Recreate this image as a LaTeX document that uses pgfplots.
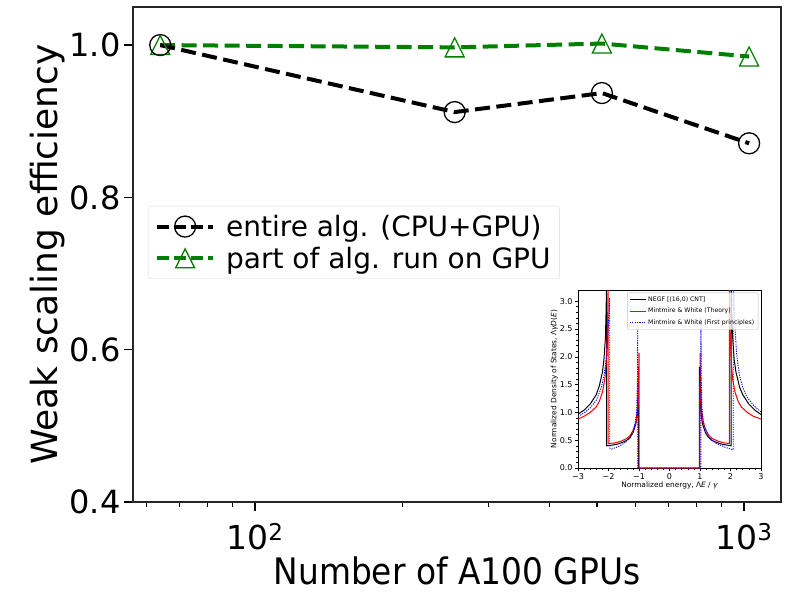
\documentclass[border=0pt]{standalone}
\usepackage{fontspec}
\setmainfont{DejaVu Sans}
\newfontfamily\xlfont{DejaVu Sans}[FakeStretch=0.9]
\usepackage{pgfplots}
\pgfplotsset{compat=1.18}
\definecolor{mgreen}{HTML}{008000}
\definecolor{mblue}{HTML}{0000FF}
\definecolor{mred}{HTML}{FF0000}
\pgfdeclareplotmark{mtri}{%
  \pgfpathmoveto{\pgfqpoint{0pt}{\pgfplotmarksize}}%
  \pgfpathlineto{\pgfqpoint{-\pgfplotmarksize}{-\pgfplotmarksize}}%
  \pgfpathlineto{\pgfqpoint{\pgfplotmarksize}{-\pgfplotmarksize}}%
  \pgfpathclose\pgfusepathqstroke}
\begin{document}
\begin{tikzpicture}[x=1pt,y=1pt]
\path[use as bounding box] (0,0) rectangle (789,595);
\begin{axis}[
  at={(133pt,93pt)}, anchor=south west,
  width=648pt, height=495pt, scale only axis,
  xmode=log, xmin=56.3, xmax=1190, ymin=0.4, ymax=1.05,
  axis line style={line width=1.3pt, black!85},
  xtick={100,1000}, xticklabels={{10\textsuperscript{2}},{10\textsuperscript{3}}},
  minor xtick={60,70,80,90,200,300,400,500,600,700,800,900},
  ytick={0.4,0.6,0.8,1.0}, yticklabels={0.4,0.6,0.8,1.0},
  tick align=outside, xtick pos=bottom, ytick pos=left,
  major tick length=9pt, minor tick length=5pt,
  every tick/.style={line width=1.3pt, black},
  /pgf/number format/assume math mode=true,
  tick label style={font=\fontsize{32}{37}\selectfont},
  xticklabel style={yshift=-9pt, font=\fontsize{33}{38}\selectfont},
  xlabel={\xlfont\fontsize{36.5}{41}\selectfont Number of A100 GPUs},
  ylabel={\fontsize{36}{41}\selectfont Weak scaling efficiency},
  xlabel style={inner sep=0pt, yshift=-3pt},
  ylabel style={yshift=-2pt},
  legend style={at={(0.023,0.598)}, anchor=north west, draw=black!15, rounded corners=3pt,
    font=\fontsize{28}{33}\selectfont, inner sep=7pt, row sep=5pt, fill=white, fill opacity=0.8, text opacity=1},
  legend cell align=left,
  reverse legend,
  legend image code/.code={\draw[mark repeat=2,mark phase=2,#1,dash pattern=on 12pt off 5pt] plot coordinates {(0pt,0pt) (28pt,0pt) (56pt,0pt)};},
]
\addplot[mgreen, line width=4pt, dash pattern=on 15pt off 6.5pt, mark=mtri, mark size=9.5pt,
  mark options={solid, line width=1.3pt, draw=mgreen, fill=none}]
  coordinates {(64,1.000) (256,0.997) (512,1.002) (1024,0.985)};
\addlegendentry{\hspace{9pt}part of alg. run on GPU}
\addplot[black, line width=4pt, dash pattern=on 15pt off 6.5pt, mark=o, mark size=10.5pt,
  mark options={solid, line width=1.3pt, draw=black, fill=none}]
  coordinates {(64,1.000) (256,0.912) (512,0.937) (1024,0.871)};
\addlegendentry{\hspace{9pt}entire alg. (CPU+GPU)}
\end{axis}
\begin{axis}[
  at={(578pt,127pt)}, anchor=south west,
  width=183pt, height=178pt, scale only axis,
  xmin=-3, xmax=3, ymin=0, ymax=3.2,
  axis background/.style={fill=white},
  axis line style={line width=0.6pt, black},
  xtick={-3,-2,-1,0,1,2,3}, xticklabels={−3,−2,−1,0,1,2,3},
  ytick={0,0.5,1,1.5,2,2.5,3}, yticklabels={0.0,0.5,1.0,1.5,2.0,2.5,3.0},
  minor x tick num=4, minor y tick num=4,
  tick align=outside, xtick pos=bottom, ytick pos=left,
  major tick length=3pt, minor tick length=1.6pt,
  every tick/.style={line width=0.5pt, black},
  /pgf/number format/assume math mode=true,
  tick label style={font=\fontsize{8}{9}\selectfont},
  xticklabel style={yshift=1pt}, yticklabel style={xshift=1pt},
  label style={font=\fontsize{7.4}{8.5}\selectfont},
  xlabel={Normalized energy, Λ\textit{E} / \textit{γ}},
  ylabel={Normalized Density of States, Λ\textit{γD}(\textit{E})},
  xlabel style={yshift=5pt},
  ylabel style={yshift=-5pt},
  legend style={at={(0.985,0.985)}, anchor=north east, draw=black!25, rounded corners=1pt,
    font=\fontsize{6.2}{7}\selectfont, inner sep=1.8pt, row sep=1.2pt, fill=white, fill opacity=0.8, text opacity=1},
  legend cell align=left,
  legend image code/.code={\draw[#1] (0pt,0pt) -- (16pt,0pt);},
]
\addplot[black, line width=1pt] coordinates {
(-3,0.97) (-2.8,1.04) (-2.6,1.15) (-2.4,1.32) (-2.3,1.48) (-2.2,1.72) (-2.15,1.95) (-2.1,2.35) (-2.08,2.8) (-2.06,3.4)
(-2.059,0.40) (-1.9,0.41) (-1.7,0.43) (-1.5,0.47) (-1.4,0.50) (-1.3,0.55) (-1.2,0.63) (-1.1,0.80) (-1.05,1.0) (-1.03,1.3) (-1.02,1.82)
(-1.019,0) (0.979,0)
(0.98,1.82) (1.0,1.3) (1.03,1.0) (1.08,0.80) (1.18,0.63) (1.28,0.55) (1.38,0.50) (1.5,0.47) (1.7,0.43) (1.9,0.41) (2.02,0.40)
(2.021,3.4) (2.04,2.8) (2.07,2.35) (2.12,1.95) (2.18,1.72) (2.3,1.45) (2.4,1.32) (2.6,1.15) (2.8,1.04) (3,0.96)};
\addlegendentry{NEGF [(16,0) CNT]}
\addplot[mred, line width=1pt] coordinates {
(-3,0.88) (-2.8,0.93) (-2.6,1.0) (-2.4,1.1) (-2.3,1.2) (-2.2,1.36) (-2.12,1.6) (-2.07,1.95) (-2.03,2.6) (-2.01,3.4)
(-2.009,0.44) (-1.8,0.45) (-1.6,0.48) (-1.4,0.53) (-1.3,0.58) (-1.2,0.67) (-1.1,0.83) (-1.05,1.05) (-1.02,1.4) (-1.0,2.07)
(-0.999,0) (0.999,0)
(1.0,2.07) (1.02,1.4) (1.05,1.05) (1.1,0.83) (1.2,0.67) (1.3,0.58) (1.4,0.53) (1.6,0.48) (1.8,0.45) (1.96,0.44)
(1.961,3.4) (1.98,2.6) (2.02,1.95) (2.07,1.6) (2.15,1.36) (2.25,1.2) (2.35,1.1) (2.55,1.0) (2.75,0.93) (3,0.88)};
\addlegendentry{Mintmire \& White (Theory)}
\addplot[mblue, line width=0.9pt, dash pattern=on 1.2pt off 1.2pt] coordinates {
(-3,0.93) (-2.8,0.99) (-2.6,1.08) (-2.4,1.22) (-2.25,1.42) (-2.15,1.65) (-2.08,1.95) (-2.02,2.4) (-1.98,2.8) (-1.96,3.06)
(-1.959,0.36) (-1.9,0.34) (-1.7,0.38) (-1.5,0.44) (-1.3,0.53) (-1.15,0.72) (-1.08,1.0) (-1.05,1.6) (-1.04,2.57)
(-1.039,0) (1.029,0)
(1.03,2.7) (1.04,1.6) (1.07,1.0) (1.14,0.75) (1.3,0.55) (1.5,0.45) (1.7,0.40) (1.9,0.36) (2.0,0.34) (2.09,0.33)
(2.091,3.4) (2.12,3.0) (2.15,2.5) (2.2,2.05) (2.3,1.65) (2.4,1.45) (2.5,1.32) (2.6,1.23) (2.8,1.1) (3,1.01)};
\addlegendentry{Mintmire \& White (First principles)}
\end{axis}
\end{tikzpicture}
\end{document}
